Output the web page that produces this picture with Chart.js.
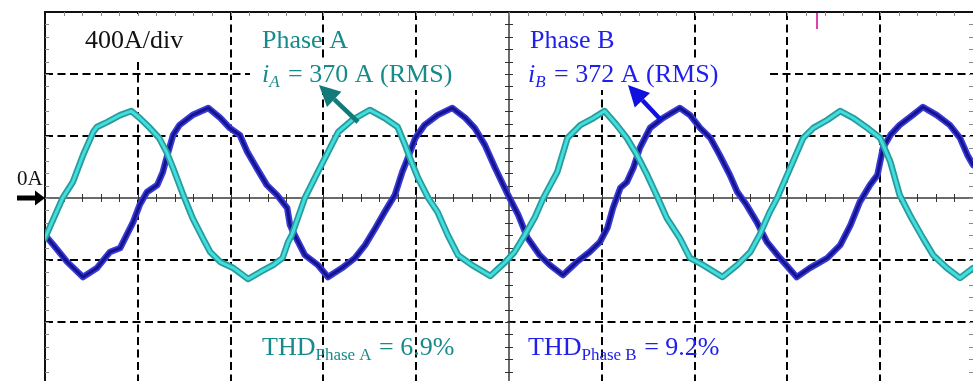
<!DOCTYPE html>
<html>
<head>
<meta charset="utf-8">
<script src="https://cdn.jsdelivr.net/npm/chart.js@4.4.0/dist/chart.umd.min.js"></script>
<style>
  html, body { margin:0; padding:0; background:#fff; overflow:hidden; width:973px; height:381px; }
  canvas { display:block; }
</style>
</head>
<body>
<canvas id="scope" width="973" height="390"></canvas>
<script>
/* ------------------ data (read off the scope capture) ------------------ */
// time in screen divisions (0..10), current in A (400 A/div)
const phaseATime = [0.00,0.19,0.30,0.41,0.52,0.56,0.67,0.81,0.93,1.02,1.13,1.23,1.31,1.38,1.49,1.59,1.70,1.78,1.89,2.03,
  2.19,2.32,2.46,2.56,2.62,2.66,2.80,2.94,3.05,3.16,3.31,3.50,3.66,3.80,3.88,3.95,4.02,4.13,4.23,4.34,
  4.45,4.60,4.80,4.96,5.06,5.17,5.28,5.37,5.52,5.63,5.77,5.91,6.03,6.16,6.27,6.38,6.49,6.59,6.70,6.84,
  6.95,7.09,7.30,7.46,7.60,7.70,7.81,7.89,8.03,8.17,8.28,8.43,8.57,8.71,8.86,9.00,9.11,9.21,9.32,9.46,
  9.57,9.72,9.86,10.00];
const phaseACurrent = [-258,0,103,277,426,458,490,535,561,516,452,387,297,194,19,-129,-258,-348,-413,-452,
  -523,-477,-432,-387,-284,-239,0,168,297,426,503,568,516,458,342,232,129,0,-90,-239,
  -368,-432,-503,-413,-348,-239,-123,0,168,387,471,516,561,471,387,277,148,19,-129,-258,
  -387,-432,-510,-432,-348,-239,-90,0,194,387,452,503,561,516,452,387,232,19,-110,-258,
  -368,-452,-516,-452];

const phaseBTime = [0.00,0.09,0.24,0.41,0.56,0.70,0.81,0.88,0.95,1.02,1.10,1.21,1.27,1.31,1.38,1.45,1.59,1.76,1.89,1.99,
  2.10,2.18,2.28,2.39,2.50,2.61,2.64,2.69,2.80,2.94,3.05,3.20,3.34,3.45,3.56,3.66,3.77,3.85,3.91,3.99,
  4.09,4.23,4.39,4.53,4.63,4.74,4.85,4.99,5.10,5.20,5.33,5.44,5.58,5.73,5.87,5.98,6.06,6.12,6.20,6.27,
  6.34,6.41,6.52,6.66,6.84,6.95,7.06,7.17,7.27,7.38,7.46,7.56,7.67,7.78,7.92,8.10,8.24,8.43,8.57,8.68,
  8.78,8.89,8.97,9.03,9.11,9.21,9.35,9.46,9.61,9.75,9.86,9.94,10.00];
const phaseBCurrent = [-239,-303,-413,-510,-452,-348,-323,-239,-155,-45,39,84,168,258,406,471,535,581,516,452,
  406,297,194,84,19,-65,-174,-239,-368,-432,-510,-452,-387,-303,-194,-90,19,168,258,387,
  471,535,581,516,452,342,194,19,-110,-258,-368,-432,-497,-413,-348,-284,-194,-65,65,103,
  194,323,452,516,581,535,452,387,277,148,39,-45,-155,-284,-387,-510,-452,-387,-303,-174,
  -26,84,148,323,406,471,535,587,535,471,387,277,213];

const AMPS_PER_DIV = 400;
const X_DIVS = 10;
const Y_DIVS = 3;            // visible divisions above / below 0A

/* ------------------ styles ------------------ */
const SERIF = '"Liberation Serif","Times New Roman",serif';
const TEAL  = '#178b8b';
const BLUE  = '#2020ee';

const toPoints = (t, a) => t.map((x, i) => ({x, y: a[i]}));

/* ------------------ helpers ------------------ */
function textRuns(ctx, x, y, color, parts) {
  ctx.fillStyle = color;
  ctx.textBaseline = 'alphabetic';
  for (const p of parts) {
    ctx.font = p.font;
    ctx.fillText(p.t, x, y + (p.dy || 0));
    x += ctx.measureText(p.t).width + (p.gap || 0);
  }
}

function arrow(ctx, x1, y1, x2, y2, color, shaft, headLen, headW) {
  const ang = Math.atan2(y2 - y1, x2 - x1);
  const bx = x2 - Math.cos(ang) * headLen, by = y2 - Math.sin(ang) * headLen;
  ctx.strokeStyle = color; ctx.fillStyle = color; ctx.lineWidth = shaft;
  ctx.beginPath(); ctx.moveTo(x1, y1); ctx.lineTo(bx, by); ctx.stroke();
  const nx = -Math.sin(ang) * headW / 2, ny = Math.cos(ang) * headW / 2;
  ctx.beginPath();
  ctx.moveTo(x2, y2); ctx.lineTo(bx + nx, by + ny); ctx.lineTo(bx - nx, by - ny);
  ctx.closePath(); ctx.fill();
}

/* ------------------ scope decorations ------------------ */
const scopeDecor = {
  id: 'scopeDecor',
  beforeDatasetsDraw(chart) {
    const {ctx, chartArea: a, scales: {x, y}} = chart;
    const top = y.getPixelForValue(Y_DIVS * AMPS_PER_DIV);
    const left = x.getPixelForValue(0);
    const x0 = x.getPixelForValue(X_DIVS / 2), y0 = y.getPixelForValue(0);
    ctx.save();

    // label backgrounds hide the grid
    ctx.fillStyle = '#fff';
    ctx.fillRect(76, 14, 118, 44);
    ctx.fillRect(250, 58, 518, 32);
    ctx.fillRect(522, 14, 100, 44);

    // frame (left + top)
    ctx.strokeStyle = '#111'; ctx.lineWidth = 2;
    ctx.beginPath();
    ctx.moveTo(left, a.bottom); ctx.lineTo(left, top); ctx.lineTo(a.right, top);
    ctx.stroke();

    // centre axes
    ctx.strokeStyle = '#3a3a3a'; ctx.lineWidth = 1.5;
    ctx.beginPath();
    ctx.moveTo(a.left, y0); ctx.lineTo(a.right, y0);
    ctx.moveTo(x0, a.top); ctx.lineTo(x0, a.bottom);
    ctx.stroke();

    // minor ticks on centre axes
    ctx.lineWidth = 1; ctx.strokeStyle = '#333';
    ctx.beginPath();
    for (let i = 1; i < X_DIVS * 5; i++) {
      const px = Math.round(x.getPixelForValue(i / 5)) + 0.5;
      ctx.moveTo(px, y0 - 4); ctx.lineTo(px, y0 + 4);
    }
    for (let i = -Y_DIVS * 5 + 1; i < Y_DIVS * 5; i++) {
      const py = Math.round(y.getPixelForValue(i * AMPS_PER_DIV / 5)) + 0.5;
      ctx.moveTo(x0 - 4, py); ctx.lineTo(x0 + 4, py);
    }
    ctx.stroke();

    // small ticks along the frame edges
    ctx.strokeStyle = '#888';
    ctx.beginPath();
    for (let i = 1; i < X_DIVS * 5; i++) {
      const px = Math.round(x.getPixelForValue(i / 5)) + 0.5;
      ctx.moveTo(px, top); ctx.lineTo(px, top + 4);
    }
    for (let i = -Y_DIVS * 5 + 1; i < Y_DIVS * 5; i++) {
      const py = Math.round(y.getPixelForValue(i * AMPS_PER_DIV / 5)) + 0.5;
      ctx.moveTo(left, py); ctx.lineTo(left + 4, py);
      ctx.moveTo(a.right - 4, py); ctx.lineTo(a.right, py);
    }
    ctx.stroke();

    // trigger marker
    ctx.strokeStyle = '#e040b0'; ctx.lineWidth = 2;
    ctx.beginPath(); ctx.moveTo(817, top + 1); ctx.lineTo(817, top + 17); ctx.stroke();
    ctx.restore();
  },
  afterDatasetsDraw(chart) {
    const {ctx, scales: {y}} = chart;
    const y0 = y.getPixelForValue(0);
    ctx.save();
    const F = '26px ' + SERIF, FI = 'italic 26px ' + SERIF;
    const S = '17px ' + SERIF, SI = 'italic 17px ' + SERIF;

    textRuns(ctx, 85, 48, '#111', [{t: '400A/div', font: F}]);

    textRuns(ctx, 262, 48, TEAL, [{t: 'Phase A', font: F}]);
    textRuns(ctx, 262, 82, TEAL, [{t: 'i', font: FI}, {t: 'A', font: SI, dy: 5, gap: 2}, {t: ' = 370 A (RMS)', font: F}]);
    textRuns(ctx, 530, 48, BLUE, [{t: 'Phase B', font: F}]);
    textRuns(ctx, 528, 82, BLUE, [{t: 'i', font: FI}, {t: 'B', font: SI, dy: 5, gap: 2}, {t: ' = 372 A (RMS)', font: F}]);

    textRuns(ctx, 262, 355, TEAL, [{t: 'THD', font: F}, {t: 'Phase A', font: S, dy: 5, gap: 1}, {t: ' = 6.9%', font: F}]);
    textRuns(ctx, 528, 355, BLUE, [{t: 'THD', font: F}, {t: 'Phase B', font: S, dy: 5, gap: 1}, {t: ' = 9.2%', font: F}]);

    textRuns(ctx, 17, 185, '#111', [{t: '0A', font: '21px ' + SERIF}]);

    arrow(ctx, 358, 122, 319, 85, '#137a7a', 4.5, 21, 21);
    arrow(ctx, 661, 120, 628, 85, '#1010e0', 4.5, 21, 21);
    arrow(ctx, 17, y0, 45, y0, '#000', 5, 10, 15);
    ctx.restore();
  }
};

/* ------------------ chart ------------------ */
const dashedGrid = (edgeValues) => ({
  drawTicks: false,
  lineWidth: 2,
  color: c => (c.tick && edgeValues.includes(c.tick.value)) ? 'rgba(0,0,0,0)' : '#000'
});

new Chart(document.getElementById('scope'), {
  type: 'line',
  data: {
    datasets: [
      {label: 'Phase A', data: toPoints(phaseATime, phaseACurrent), borderColor: '#40dede', borderWidth: 3, order: 1},
      {label: 'Phase A ripple', data: toPoints(phaseATime, phaseACurrent), borderColor: '#2a9a9a', borderWidth: 6.5, order: 2},
      {label: 'Phase B', data: toPoints(phaseBTime, phaseBCurrent), borderColor: '#14148f', borderWidth: 3, order: 3},
      {label: 'Phase B ripple', data: toPoints(phaseBTime, phaseBCurrent), borderColor: '#3a3ad8', borderWidth: 6.5, order: 4}
    ]
  },
  options: {
    responsive: false,
    animation: false,
    events: [],
    layout: {padding: {left: 45, top: 12, right: 0, bottom: 6}},
    elements: {point: {radius: 0}, line: {tension: 0, borderJoinStyle: 'round', borderCapStyle: 'round'}},
    plugins: {legend: {display: false}, tooltip: {enabled: false}},
    scales: {
      x: {
        type: 'linear', min: 0, max: X_DIVS,
        ticks: {display: false, stepSize: 1},
        grid: dashedGrid([0, X_DIVS / 2, X_DIVS]),
        border: {display: false, dash: [8, 4.5]},
        afterFit: s => { s.height = 0; }
      },
      y: {
        type: 'linear', min: -Y_DIVS * AMPS_PER_DIV, max: Y_DIVS * AMPS_PER_DIV,
        ticks: {display: false, stepSize: AMPS_PER_DIV},
        grid: dashedGrid([0, Y_DIVS * AMPS_PER_DIV]),
        border: {display: false, dash: [8, 4.5]},
        afterFit: s => { s.width = 0; }
      }
    }
  },
  plugins: [scopeDecor]
});
</script>
</body>
</html>
